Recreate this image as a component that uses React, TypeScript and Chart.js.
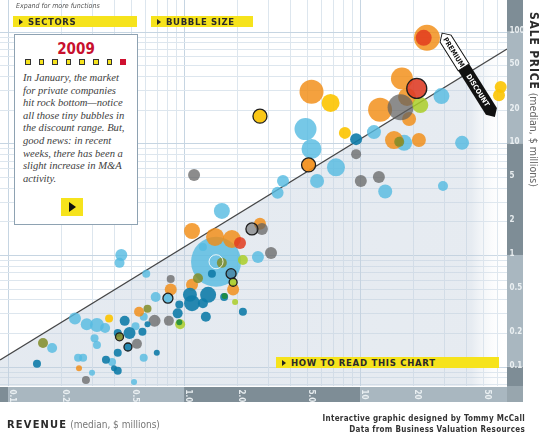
import React, { useEffect, useRef } from "react";
import { Chart, registerables } from "chart.js";

Chart.register(...registerables);

// ---------- axis ranges & ticks ----------
const X_MIN = 0.09;
const X_MAX = 68.4;
const Y_MIN = 0.0671;
const Y_MAX = 192;
const X_TICKS = [0.1, 0.2, 0.5, 1, 2, 5, 10, 20, 50];
const X_TICK_LABELS = ["0.1", "0.2", "0.5", "1.0", "2.0", "5.0", "10", "20", "50"];
const Y_TICKS = [0.1, 0.2, 0.5, 1, 2, 5, 10, 20, 50, 100];
const Y_TICK_LABELS = ["0.1", "0.2", "0.5", "1", "2", "5", "10", "20", "50", "100"];
const GRID_MULTIPLES = [1, 2, 3, 4, 5, 6, 7, 8, 9];
const GRID_DECADES = [0.01, 0.1, 1, 10, 100];
const BAND_BREAKS = [0.1, 1, 10, 100];

// ---------- premium / discount line ----------
const TREND_LINE = [
  { x: 0.09, y: 0.115 },
  { x: 68.4, y: 69.9 },
];

// ---------- bubbles (revenue, sale price, radius) ----------
const LIGHT_BLUE = [
  { x: 1.52, y: 0.87, r: 25 },
  { x: 4.9, y: 13.4, r: 11 },
  { x: 5.3, y: 8.9, r: 10 },
  { x: 3.65, y: 4.6, r: 6 },
  { x: 3.4, y: 3.6, r: 6 },
  { x: 5.7, y: 4.6, r: 7 },
  { x: 7.3, y: 6.1, r: 9 },
  { x: 12, y: 12.6, r: 7 },
  { x: 13.9, y: 3.7, r: 7 },
  { x: 17.8, y: 10.1, r: 8 },
  { x: 29, y: 26.5, r: 8 },
  { x: 38, y: 10.1, r: 7 },
  { x: 29.6, y: 4.15, r: 5 },
  { x: 1.64, y: 2.48, r: 8 },
  { x: 1.28, y: 1.18, r: 4 },
  { x: 2.63, y: 0.96, r: 6 },
  { x: 0.69, y: 0.42, r: 5 },
  { x: 0.61, y: 0.68, r: 4 },
  { x: 0.44, y: 1.0, r: 6 },
  { x: 0.43, y: 0.85, r: 5 },
  { x: 0.24, y: 0.27, r: 6 },
  { x: 0.28, y: 0.24, r: 6 },
  { x: 0.32, y: 0.236, r: 7 },
  { x: 0.356, y: 0.222, r: 5 },
  { x: 0.53, y: 0.23, r: 4 },
  { x: 0.59, y: 0.28, r: 4 },
  { x: 0.31, y: 0.18, r: 4 },
  { x: 0.32, y: 0.156, r: 4 },
  { x: 0.178, y: 0.147, r: 5 },
  { x: 0.25, y: 0.12, r: 4 },
  { x: 0.267, y: 0.12, r: 4 },
  { x: 0.39, y: 0.11, r: 4 },
  { x: 0.59, y: 0.12, r: 4 },
  { x: 0.3, y: 0.088, r: 3 },
  { x: 0.52, y: 0.073, r: 3 },
];

const DARK_BLUE = [
  { x: 9.5, y: 10.9, r: 6 },
  { x: 1.44, y: 0.68, r: 4 },
  { x: 1.37, y: 0.44, r: 8 },
  { x: 1.08, y: 0.44, r: 7 },
  { x: 1.11, y: 0.37, r: 8 },
  { x: 0.94, y: 0.36, r: 4 },
  { x: 0.92, y: 0.3, r: 5 },
  { x: 1.28, y: 0.37, r: 5 },
  { x: 1.69, y: 0.42, r: 4 },
  { x: 2.16, y: 0.31, r: 4 },
  { x: 1.33, y: 0.28, r: 5 },
  { x: 0.46, y: 0.257, r: 5 },
  { x: 0.42, y: 0.2, r: 4 },
  { x: 0.49, y: 0.2, r: 6 },
  { x: 0.58, y: 0.205, r: 4 },
  { x: 0.62, y: 0.24, r: 3 },
  { x: 0.146, y: 0.106, r: 4 },
  { x: 0.36, y: 0.115, r: 4 },
  { x: 0.42, y: 0.133, r: 4 },
  { x: 0.4, y: 0.097, r: 3 },
  { x: 0.42, y: 0.092, r: 4 },
  { x: 0.7, y: 0.133, r: 3 },
];

const ORANGE = [
  { x: 24, y: 88, r: 13 },
  { x: 5.3, y: 29, r: 12 },
  { x: 13, y: 20, r: 12 },
  { x: 17.3, y: 38, r: 11 },
  { x: 18.5, y: 26, r: 9 },
  { x: 19, y: 16.5, r: 7 },
  { x: 15.6, y: 10.7, r: 9 },
  { x: 21.6, y: 10.7, r: 7 },
  { x: 1.11, y: 1.64, r: 8 },
  { x: 2.7, y: 1.9, r: 6 },
  { x: 1.5, y: 1.45, r: 9 },
  { x: 1.87, y: 1.39, r: 9 },
  { x: 1.9, y: 0.49, r: 6 },
  { x: 1.11, y: 0.54, r: 6 },
  { x: 0.84, y: 0.49, r: 6 },
  { x: 0.555, y: 0.31, r: 5 },
  { x: 0.253, y: 0.097, r: 3 },
];

const RED = [
  { x: 23, y: 88, r: 8 },
  { x: 2.08, y: 1.28, r: 6 },
];

const YELLOW = [
  { x: 6.8, y: 23, r: 9 },
  { x: 8.2, y: 12.4, r: 6 },
  { x: 63, y: 32, r: 6 },
  { x: 61.6, y: 27, r: 6 },
  { x: 0.375, y: 0.27, r: 4 },
];

const GRAY = [
  { x: 17, y: 21, r: 13 },
  { x: 9.5, y: 8.0, r: 5 },
  { x: 10.1, y: 4.6, r: 6 },
  { x: 12.8, y: 5.0, r: 6 },
  { x: 1.14, y: 5.2, r: 6 },
  { x: 2.77, y: 1.71, r: 6 },
  { x: 3.12, y: 1.04, r: 6 },
  { x: 0.84, y: 0.61, r: 4 },
  { x: 0.68, y: 0.257, r: 6 },
  { x: 0.82, y: 0.257, r: 5 },
  { x: 0.54, y: 0.16, r: 5 },
  { x: 0.277, y: 0.076, r: 4 },
];

const OLIVE = [
  { x: 16.7, y: 10.3, r: 5 },
  { x: 1.64, y: 0.85, r: 5 },
  { x: 1.2, y: 0.62, r: 5 },
  { x: 0.62, y: 0.33, r: 4 },
  { x: 0.158, y: 0.163, r: 5 },
];

const LIME = [
  { x: 22, y: 22, r: 8 },
  { x: 2.16, y: 0.9, r: 5 },
  { x: 1.95, y: 0.38, r: 3 },
  { x: 0.95, y: 0.24, r: 5 },
];

const GREEN = [
  { x: 1.7, y: 0.43, r: 3 },
  { x: 0.94, y: 0.25, r: 3 },
];

const OUTLINED = [
  { x: 2.7, y: 17.5, r: 7 },
  { x: 5.1, y: 6.4, r: 7 },
  { x: 21, y: 31, r: 10 },
  { x: 2.43, y: 1.71, r: 6 },
  { x: 1.85, y: 0.68, r: 5 },
  { x: 1.9, y: 0.57, r: 4 },
  { x: 0.81, y: 0.41, r: 5 },
  { x: 0.43, y: 0.185, r: 4 },
  { x: 0.48, y: 0.15, r: 4 },
];
const OUTLINED_COLORS = [
  "rgba(250,196,10,0.95)",
  "rgba(242,140,20,0.9)",
  "rgba(222,62,40,0.9)",
  "rgba(95,95,95,0.55)",
  "rgba(70,130,160,0.8)",
  "rgba(170,206,40,0.9)",
  "rgba(84,186,225,0.85)",
  "rgba(128,140,40,0.9)",
  "rgba(16,124,168,0.9)",
];

const HIGHLIGHT = [{ x: 1.52, y: 0.87, r: 7 }];

const PARAGRAPH = [
  "In January, the market",
  "for private companies",
  "hit rock bottom\u2014notice",
  "all those tiny bubbles in",
  "the discount range. But,",
  "good news: in recent",
  "weeks, there has been a",
  "slight increase in M&A",
  "activity.",
];

const COND = '"DejaVu Sans Condensed","Liberation Sans Narrow","Roboto Condensed",Roboto,sans-serif';
const SANS = '"DejaVu Sans","Liberation Sans",sans-serif';
const SERIF = '"Liberation Serif","DejaVu Serif",serif';

const BAND_LIGHT = "#a9b7c0";
const BAND_DARK = "#7e8d96";

const backdrop = {
  id: "backdrop",
  beforeDraw(chart: any) {
    const { ctx, chartArea: a, scales } = chart;
    const xs = scales.x;
    const ys = scales.y;
    ctx.save();
    ctx.fillStyle = "#ffffff";
    ctx.fillRect(0, 0, chart.width, chart.height);
    ctx.lineWidth = 1;
    for (const d of GRID_DECADES) {
      for (const m of GRID_MULTIPLES) {
        const v = d * m;
        if (v > X_MIN && v < X_MAX) {
          const px = Math.round(xs.getPixelForValue(v)) + 0.5;
          ctx.strokeStyle = m === 1 ? "#c6d5e2" : "#dde6ee";
          ctx.beginPath();
          ctx.moveTo(px, a.top);
          ctx.lineTo(px, a.bottom);
          ctx.stroke();
        }
        if (v > Y_MIN && v < Y_MAX) {
          const py = Math.round(ys.getPixelForValue(v)) + 0.5;
          ctx.strokeStyle = m === 1 ? "#c6d5e2" : "#dde6ee";
          ctx.beginPath();
          ctx.moveTo(a.left, py);
          ctx.lineTo(a.right, py);
          ctx.stroke();
        }
      }
    }
    ctx.restore();
  },
  afterDraw(chart: any) {
    const { ctx, chartArea: a, scales } = chart;
    const xs = scales.x;
    const ys = scales.y;
    const bandTop = a.bottom + 1;
    const bandBottom = a.bottom + 16;
    const bandLeft = a.right;
    const bandRight = a.right + 16;
    ctx.save();
    const xEdges = [a.left, ...BAND_BREAKS.filter((v) => v > X_MIN && v < X_MAX).map((v) => xs.getPixelForValue(v)), a.right];
    for (let i = 0; i < xEdges.length - 1; i++) {
      ctx.fillStyle = i % 2 === 0 ? BAND_DARK : BAND_LIGHT;
      ctx.fillRect(xEdges[i], bandTop, xEdges[i + 1] - xEdges[i], bandBottom - bandTop);
    }
    const yEdges = [a.bottom, ...BAND_BREAKS.filter((v) => v > Y_MIN && v < Y_MAX).map((v) => ys.getPixelForValue(v)), a.top];
    for (let i = 0; i < yEdges.length - 1; i++) {
      ctx.fillStyle = i % 2 === 0 ? BAND_DARK : BAND_LIGHT;
      ctx.fillRect(bandLeft, yEdges[i + 1], bandRight - bandLeft, yEdges[i] - yEdges[i + 1]);
    }
    ctx.fillStyle = "#98a6ae";
    ctx.fillRect(bandLeft, a.bottom, bandRight - bandLeft, bandBottom - a.bottom);

    ctx.fillStyle = "rgba(240,244,246,0.92)";
    ctx.font = 'bold 8px "DejaVu Sans Condensed","Liberation Sans Narrow",sans-serif';
    ctx.textAlign = "left";
    ctx.textBaseline = "middle";
    X_TICKS.forEach((v, i) => {
      const px = xs.getPixelForValue(v);
      ctx.save();
      ctx.translate(px + 4, bandTop + 2.5);
      ctx.rotate(Math.PI / 2);
      ctx.fillText(X_TICK_LABELS[i], 0, 0);
      ctx.restore();
    });
    ctx.textBaseline = "alphabetic";
    Y_TICKS.forEach((v, i) => {
      const py = ys.getPixelForValue(v);
      ctx.fillText(Y_TICK_LABELS[i], bandLeft + 2.5, py + 1);
    });
    ctx.restore();
  },
};

function bubbleSet(data: any[], color: string, order: number) {
  return {
    type: "bubble",
    data,
    backgroundColor: color,
    borderWidth: 0,
    order,
  };
}

function Arrow({ size = 3.5 }: { size?: number }) {
  return (
    <div
      style={{
        marginLeft: 6,
        width: 0,
        height: 0,
        borderTop: `${size}px solid transparent`,
        borderBottom: `${size}px solid transparent`,
        borderLeft: `${size * 1.4}px solid #222`,
      }}
    />
  );
}

function Button({ left, top, width, label }: { left: number; top: number; width: number; label: string }) {
  return (
    <div
      style={{
        position: "absolute",
        left,
        top,
        width,
        height: 11,
        background: "#f6e31c",
        display: "flex",
        alignItems: "center",
      }}
    >
      <Arrow />
      <span
        style={{
          marginLeft: 5,
          fontFamily: COND,
          fontWeight: "bold",
          fontSize: 9.5,
          letterSpacing: 0.6,
          color: "#2a2a2a",
          lineHeight: "11px",
          whiteSpace: "nowrap",
        }}
      >
        {label}
      </span>
    </div>
  );
}

export default function App() {
  const ref = useRef<HTMLCanvasElement>(null);

  useEffect(() => {
    const canvas = ref.current;
    if (!canvas) return;
    const chart = new Chart(canvas, {
      type: "bubble",
      data: {
        datasets: [
          {
            type: "line",
            data: TREND_LINE,
            borderColor: "rgba(40,40,40,0.85)",
            borderWidth: 1.2,
            pointRadius: 0,
            tension: 0,
            fill: "start",
            backgroundColor: (c: any) => {
              const area = c.chart.chartArea;
              if (!area) return "rgba(196,208,222,0.45)";
              const g = c.chart.ctx.createLinearGradient(area.left, 0, area.right, 0);
              g.addColorStop(0, "rgba(196,208,222,0.45)");
              g.addColorStop(0.93, "rgba(196,208,222,0.42)");
              g.addColorStop(1, "rgba(255,255,255,0)");
              return g;
            },
            order: 20,
          } as any,
          bubbleSet(LIGHT_BLUE, "rgba(84,186,225,0.8)", 10),
          bubbleSet(ORANGE, "rgba(242,140,20,0.82)", 9),
          bubbleSet(GRAY, "rgba(95,95,95,0.72)", 8),
          bubbleSet(RED, "rgba(226,60,30,0.85)", 7),
          bubbleSet(YELLOW, "rgba(252,196,0,0.9)", 6),
          bubbleSet(OLIVE, "rgba(128,140,40,0.85)", 5),
          bubbleSet(LIME, "rgba(170,206,40,0.85)", 4),
          bubbleSet(DARK_BLUE, "rgba(16,124,168,0.9)", 3),
          bubbleSet(GREEN, "rgba(30,140,60,0.9)", 2),
          {
            type: "bubble",
            data: OUTLINED,
            backgroundColor: OUTLINED_COLORS,
            borderColor: "#1e1e1e",
            borderWidth: 1.3,
            order: 1,
          } as any,
          {
            type: "bubble",
            data: HIGHLIGHT,
            backgroundColor: "rgba(0,0,0,0)",
            borderColor: "rgba(255,255,255,0.85)",
            borderWidth: 1,
            order: 0,
          } as any,
        ] as any,
      },
      options: {
        responsive: false,
        animation: false,
        events: [],
        layout: { autoPadding: false, padding: { left: 0, top: 0, right: 38, bottom: 50 } },
        plugins: { legend: { display: false }, tooltip: { enabled: false } },
        scales: {
          x: { type: "logarithmic", min: X_MIN, max: X_MAX, display: false },
          y: { type: "logarithmic", min: Y_MIN, max: Y_MAX, display: false },
        },
      } as any,
      plugins: [backdrop],
    });
    return () => chart.destroy();
  }, []);

  return (
    <div
      style={{
        position: "absolute",
        left: 0,
        top: 0,
        width: 545,
        height: 436,
        overflow: "hidden",
        background: "#fff",
      }}
    >
      <canvas ref={ref} width={545} height={436} style={{ position: "absolute", left: 0, top: 0, width: 545, height: 436 }} />

      <div
        style={{
          position: "absolute",
          left: 16,
          top: 2,
          fontFamily: COND,
          fontStyle: "italic",
          fontSize: 7,
          color: "#555",
          whiteSpace: "nowrap",
        }}
      >
        Expand for more functions
      </div>
      <Button left={13} top={16} width={124} label="SECTORS" />
      <Button left={151} top={16} width={102} label="BUBBLE SIZE" />

      <div
        style={{
          position: "absolute",
          left: 14,
          top: 34,
          width: 122,
          height: 189,
          background: "#fff",
          border: "1px solid #8ea2b2",
        }}
      >
        <div
          style={{
            position: "absolute",
            left: 0,
            width: 122,
            top: 5,
            textAlign: "center",
            fontFamily: COND,
            fontWeight: "bold",
            fontSize: 15,
            lineHeight: "18px",
            color: "#c8102e",
          }}
        >
          2009
        </div>
        {[0, 1, 2, 3, 4, 5, 6, 7].map((i) => (
          <div
            key={i}
            style={{
              position: "absolute",
              left: 10 + i * 13.6,
              top: 24,
              width: 3.5,
              height: 3.5,
              background: i === 7 ? "#cf1030" : "#f6e31c",
              border: i === 7 ? "0.8px solid #cf1030" : "0.8px solid #333",
            }}
          />
        ))}
        <div
          style={{
            position: "absolute",
            left: 8,
            top: 37,
            fontFamily: SERIF,
            fontStyle: "italic",
            fontSize: 10.6,
            lineHeight: "12.6px",
            color: "#404040",
            whiteSpace: "nowrap",
          }}
        >
          {PARAGRAPH.map((l, i) => (
            <div key={i}>{l}</div>
          ))}
        </div>
        <div
          style={{
            position: "absolute",
            left: 46,
            top: 163,
            width: 22,
            height: 18,
            background: "#f6e31c",
          }}
        >
          <div
            style={{
              position: "absolute",
              left: 8,
              top: 4,
              width: 0,
              height: 0,
              borderTop: "5px solid transparent",
              borderBottom: "5px solid transparent",
              borderLeft: "7px solid #111",
            }}
          />
        </div>
      </div>

      <div
        style={{
          position: "absolute",
          left: 276,
          top: 357,
          width: 223,
          height: 11,
          background: "#f6e31c",
          display: "flex",
          alignItems: "center",
        }}
      >
        <Arrow />
        <span
          style={{
            marginLeft: 5,
            fontFamily: COND,
            fontWeight: "bold",
            fontSize: 9.5,
            letterSpacing: 0.7,
            color: "#2a2a2a",
            lineHeight: "11px",
            whiteSpace: "nowrap",
          }}
        >
          HOW TO READ THIS CHART
        </span>
      </div>

      <svg width={545} height={436} style={{ position: "absolute", left: 0, top: 0, pointerEvents: "none" }}>
        <g transform="translate(468.5,75) rotate(57.8)">
          <polygon points="-49.5,0 -43,-6.5 -9,-6.5 -9,6.5 -43,6.5" fill="#fff" stroke="#111" strokeWidth={0.9} />
          <polygon points="-9,-6.5 43,-6.5 49.5,0 43,6.5 -9,6.5" fill="#111" />
          <text x={-27} y={2.6} textAnchor="middle" fontFamily={COND} fontWeight="bold" fontSize={7} fill="#111">
            PREMIUM
          </text>
          <text x={18} y={2.6} textAnchor="middle" fontFamily={COND} fontWeight="bold" fontSize={7} fill="#fff">
            DISCOUNT
          </text>
        </g>
      </svg>

      <div
        style={{
          position: "absolute",
          left: 526,
          top: 12,
          writingMode: "vertical-rl",
          whiteSpace: "nowrap",
          fontFamily: COND,
          lineHeight: "15px",
        }}
      >
        <span style={{ fontWeight: "bold", fontSize: 12, letterSpacing: 0.8, color: "#2a2a2a" }}>SALE PRICE</span>
        <span style={{ fontSize: 10.5, color: "#666" }}> (median, $ millions)</span>
      </div>

      <div
        style={{
          position: "absolute",
          left: 7,
          top: 415,
          whiteSpace: "nowrap",
          fontFamily: COND,
          lineHeight: "16px",
        }}
      >
        <span style={{ fontWeight: "bold", fontSize: 11, letterSpacing: 1.2, color: "#2a2a2a" }}>REVENUE</span>
        <span style={{ fontSize: 10, color: "#777" }}> (median, $ millions)</span>
      </div>

      <div
        style={{
          position: "absolute",
          right: 20,
          top: 413,
          textAlign: "right",
          fontFamily: COND,
          fontWeight: "bold",
          fontSize: 8,
          lineHeight: "11px",
          letterSpacing: 0.3,
          color: "#333",
          whiteSpace: "nowrap",
        }}
      >
        <div>Interactive graphic designed by Tommy McCall</div>
        <div>Data from Business Valuation Resources</div>
      </div>
    </div>
  );
}
